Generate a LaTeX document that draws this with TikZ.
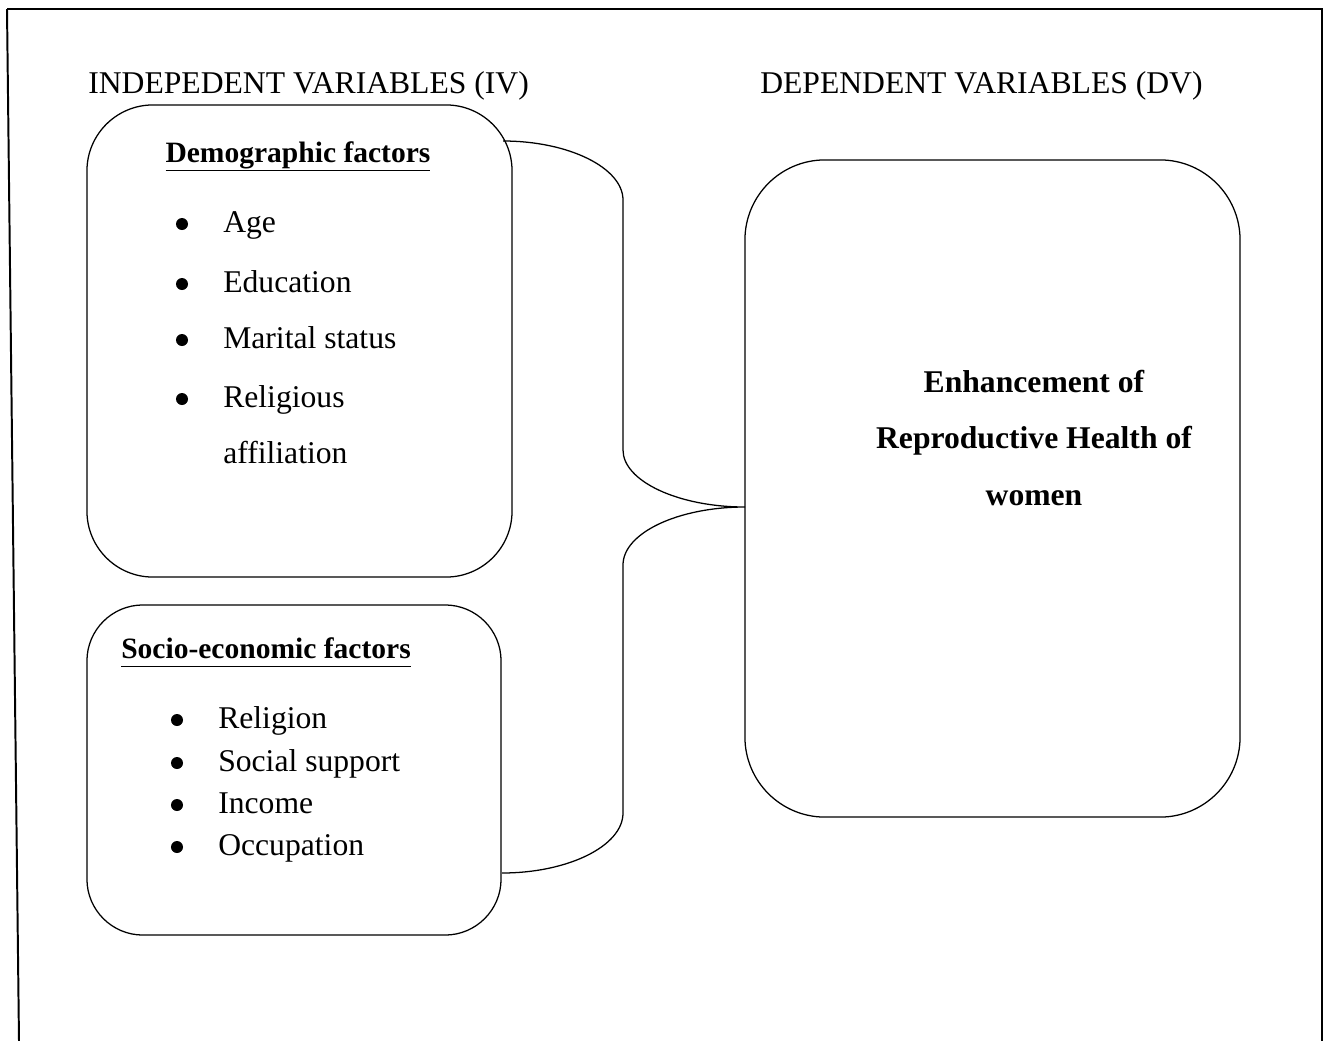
\documentclass[tikz,border=0pt]{standalone}
\usepackage{fontspec}
\setmainfont{Liberation Serif}
\newcommand\undl[1]{\underline{#1\vphantom{g}}}

\begin{document}
\begin{tikzpicture}[x=0.025cm, y=-0.025cm,
    txt/.style={font=\fontsize{22.5}{27}\selectfont, inner sep=0},
    listitem/.style={txt, anchor=base west},
    dot/.style={circle, fill, inner sep=0, minimum size=0.3cm},
    title/.style={txt, anchor=base, font=\fontsize{21}{25}\selectfont\bfseries},
    fbox/.style={draw, line width=0.9pt, inner sep=0},
    brace/.style={line width=0.9pt}]
    \useasboundingbox (0,0) rectangle (1331,1041);

    % frame
    \draw[line width=1.4pt] (7,9) -- (1322,9) -- (1322,1041);
    \draw[line width=1.4pt] (7,9) -- (19,1041);

    % headings
    \node[txt, anchor=base west] (ivhead) at (88,93) {INDEPEDENT VARIABLES (IV)};
    \node[txt, anchor=base west] (dvhead) at (760,93) {DEPENDENT VARIABLES (DV)};

    % boxes
    \node[fbox, rounded corners=1.65cm, minimum width=10.625cm, minimum height=11.8cm] (demo) at (299.5,341) {};
    \node[fbox, rounded corners=1.4cm, minimum width=10.35cm, minimum height=8.25cm] (socio) at (294,770) {};
    \node[fbox, rounded corners=2cm, minimum width=12.375cm, minimum height=16.425cm] (dv) at (992.5,488.5) {};

    % demographic factors
    \node[title] (demotitle) at (298,162) {\undl{Demographic factors}};
    \node[dot] (agedot) at (182,224) {};
    \node[listitem] (age) at (223,232) {Age};
    \node[dot] (educdot) at (182,284) {};
    \node[listitem] (educ) at (223,292) {Education};
    \node[dot] (maritaldot) at (182,340) {};
    \node[listitem] (marital) at (223,348) {Marital status};
    \node[dot] (religiousdot) at (182,399) {};
    \node[listitem] (religious) at (223,407) {Religious};
    \node[listitem] (affil) at (223,463) {affiliation};

    % socio-economic factors
    \node[title] (sociotitle) at (266,658) {\undl{Socio-economic factors}};
    \node[dot] (religiondot) at (177,720) {};
    \node[listitem] (religion) at (218,728) {Religion};
    \node[dot] (supportdot) at (177,763) {};
    \node[listitem] (support) at (218,771) {Social support};
    \node[dot] (incomedot) at (177,805) {};
    \node[listitem] (income) at (218,813) {Income};
    \node[dot] (occupdot) at (177,847) {};
    \node[listitem] (occup) at (218,855) {Occupation};

    % dependent variable
    \node[txt, font=\fontsize{22.5}{40.5}\selectfont\bfseries, align=center] (dvtext) at (1034,438)
        {Enhancement of\\Reproductive Health of\\women};

    % brace
    \coordinate (btop) at (503,141);
    \coordinate (bbot) at (502,873);
    \coordinate (tip) at (745,507);
    \draw[brace] (btop) .. controls (569,141) and (623,168) .. (623,200) -- (623,450)
        .. controls (623,481) and (678,507) .. (tip)
        .. controls (678,507) and (623,533) .. (623,565) -- (623,813)
        .. controls (623,846) and (568,873) .. (bbot);
\end{tikzpicture}
\end{document}
